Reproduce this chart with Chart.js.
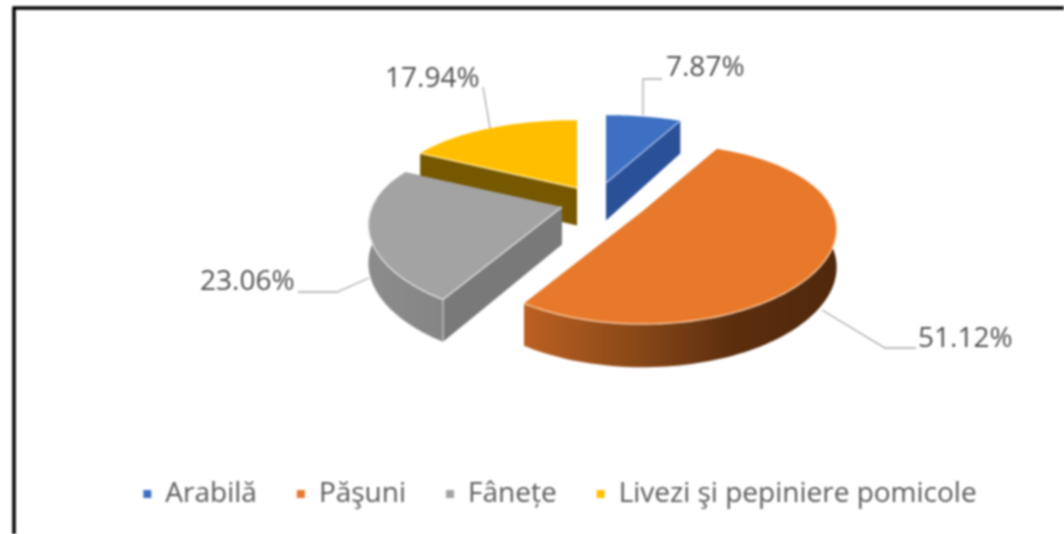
<!DOCTYPE html>
<html><head><meta charset="utf-8">
<style>html,body{margin:0;padding:0;background:#fff;overflow:hidden}canvas{display:block;filter:blur(0.8px)}</style>
<script src="https://cdn.jsdelivr.net/npm/chart.js@4"></script>
</head><body><canvas id="c" width="1064" height="534"></canvas>
<script>
const categories = ["Arabilă", "Păşuni", "Fânețe", "Livezi şi pepiniere pomicole"];
const shares = [7.87, 51.12, 23.06, 17.94];
const sliceColors = ["#3D70C2", "#E8792A", "#A3A3A3", "#FFBF00"];
const wallColors = [["#2A5098","#2A5098"], ["#BC6022","#8C4A18","#5C2E0E","#4F280B"], ["#8C8C8C","#858585"], ["#7A5C00","#6E5200"]];
const radialColors = ["#2A5098", "#BC6022", "#797979", "#765800"];
const rimColors = ["#A9C0EC", "#FBD3B0", "#E4E4E4", "#FFE9A0"];

// view of the tilted pie: where each exploded slice's apex lands, and the perspective
const apex = [[606,183],[643,211],[562,207],[577,188]];
const view = {rx:190, ry:90.5, perspX:0.2, perspY:0.25, depth:37.5, depthPersp:0.15};
const paintOrder = [3,0,2,1];
// leader lines and label anchors
const leaders = [[[643,115],[643,79],[662,79]], [[822,310],[885,348],[916,348]], [[369,278],[337,292],[298,292]], [[490,128],[483,87]]];
const labelAt = [[666,68],[918,339],[200,282],[385,79]];

function pt(i, th, r, down) {
  const u = Math.sin(th)*r, v = -Math.cos(th)*r;
  const d = down ? view.depth*(1+view.depthPersp*v) : 0;
  return [apex[i][0]+view.rx*u*(1+view.perspX*v), apex[i][1]+view.ry*v*(1+view.perspY*v)+d];
}
function arcPts(i,a,b,down){const n=80,o=[];for(let k=0;k<=n;k++)o.push(pt(i,a+(b-a)*k/n,1,down));return o;}
function poly(ctx,pts,close){ctx.beginPath();pts.forEach((q,k)=>k?ctx.lineTo(q[0],q[1]):ctx.moveTo(q[0],q[1]));if(close)ctx.closePath();}
const pie3d = {
  id:'pie3d',
  beforeDraw(chart){
    const ctx=chart.ctx;ctx.save();ctx.strokeStyle='#000';ctx.lineWidth=3.5;
    ctx.beginPath();ctx.moveTo(14,534);ctx.lineTo(14,8);ctx.lineTo(1064,8);ctx.stroke();ctx.restore();
  },
  beforeDatasetDraw(chart){
    const ctx=chart.ctx, arcs=chart.getDatasetMeta(0).data;
    ctx.save();ctx.lineJoin='round';
    for(const i of paintOrder){
      const a=arcs[i].startAngle+Math.PI/2, b=arcs[i].endAngle+Math.PI/2;
      const c=apex[i], cd=[c[0],c[1]+view.depth];
      // radial side walls
      ctx.fillStyle=radialColors[i];
      for(const th of [a,b]){
        poly(ctx,[c,pt(i,th,1,false),pt(i,th,1,true),cd],true);ctx.fill();
      }
      // outer wall, only the part that faces the viewer
      const w0=Math.max(a,Math.PI*0.47), w1=Math.min(b,Math.PI*1.53);
      if(w1>w0){
        const top=arcPts(i,w0,w1,false), bot=arcPts(i,w0,w1,true);
        const xs=top.map(q=>q[0]);
        const g=ctx.createLinearGradient(Math.min(...xs),0,Math.max(...xs),0);
        wallColors[i].forEach((col,k)=>g.addColorStop(k/(wallColors[i].length-1),col));
        ctx.fillStyle=g;poly(ctx,top.concat(bot.reverse()),true);ctx.fill();
      }
      // top face
      ctx.fillStyle=sliceColors[i];
      poly(ctx,[c].concat(arcPts(i,a,b,false)),true);ctx.fill();
      // light rim along the visible edges
      ctx.strokeStyle=rimColors[i];ctx.lineWidth=1.3;
      if(w1>w0){poly(ctx,arcPts(i,w0,w1,false));ctx.stroke();}
      const rimEdge = {0:b,2:a,3:a}[i];
      if(rimEdge!==undefined){poly(ctx,[c,pt(i,rimEdge,1,false)]);ctx.stroke();}
      if(i===2){ctx.globalAlpha=.7;poly(ctx,[pt(i,a,1,false),pt(i,a,1,true)]);ctx.stroke();ctx.globalAlpha=1;}
    }
    ctx.restore();
    return false;
  },
  afterDatasetsDraw(chart){
    const ctx=chart.ctx;ctx.save();
    ctx.strokeStyle='#A6A6A6';ctx.lineWidth=1.3;
    leaders.forEach(l=>{poly(ctx,l);ctx.stroke();});
    ctx.fillStyle='#4F4F4F';ctx.font='28px "Open Sans"';ctx.textBaseline='middle';ctx.textAlign='left';
    shares.forEach((v,i)=>ctx.fillText(v.toFixed(2)+'%',labelAt[i][0],labelAt[i][1]));
    ctx.restore();
  }
};
new Chart(document.getElementById('c'),{
  type:'pie',
  data:{labels:categories,datasets:[{data:shares,backgroundColor:sliceColors,borderWidth:0}]},
  plugins:[pie3d],
  options:{
    responsive:false,animation:false,
    layout:{padding:{bottom:16,top:60,left:56}},
    plugins:{
      tooltip:{enabled:false},
      legend:{position:'bottom',labels:{usePointStyle:true,pointStyle:'rect',boxWidth:8,boxHeight:8,padding:40,color:'#5A5A5A',font:{family:'"Open Sans"',size:28}}}
    }
  }
});
</script></body></html>
